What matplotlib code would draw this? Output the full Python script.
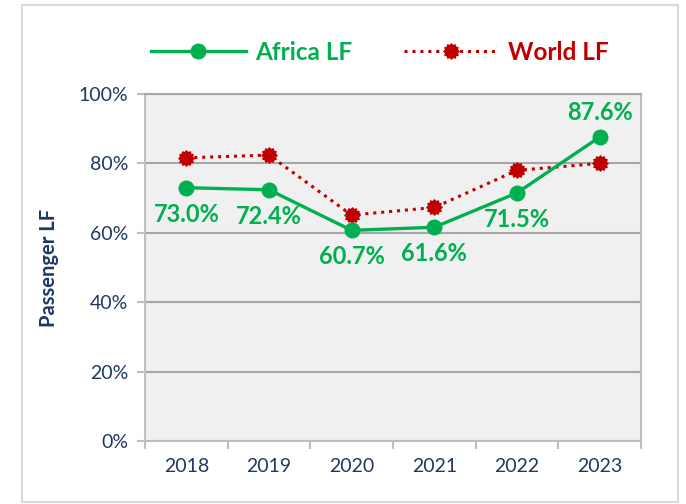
import matplotlib
matplotlib.use("Agg")
import matplotlib.pyplot as plt
import numpy as np
from matplotlib.path import Path
from matplotlib.patches import Rectangle

years = ["2018", "2019", "2020", "2021", "2022", "2023"]
africa_lf = [73.0, 72.4, 60.7, 61.6, 71.5, 87.6]
world_lf = [81.6, 82.4, 65.1, 67.3, 78.0, 80.0]
africa_labels = ["73.0%", "72.4%", "60.7%", "61.6%", "71.5%", "87.6%"]
label_above = [False, False, False, False, False, True]
yticks = [0, 20, 40, 60, 80, 100]

GREEN = "#00B050"
RED = "#C00000"
NAVY = "#1F3864"
GRID = "#A6A6A6"

plt.rcParams['font.family'] = ['Lato', 'DejaVu Sans']

# burst marker
n = 12
ang = np.linspace(0, 2 * np.pi, 2 * n, endpoint=False)
rad = np.where(np.arange(2 * n) % 2 == 0, 1.0, 0.78)
verts = np.column_stack([rad * np.cos(ang), rad * np.sin(ang)])
verts = np.vstack([verts, verts[:1]])
codes = [Path.MOVETO] + [Path.LINETO] * (2 * n - 1) + [Path.CLOSEPOLY]
burst = Path(verts, codes)

fig = plt.figure(figsize=(6.86, 5.04), dpi=100)
fig.patches.append(Rectangle((22 / 686, 2 / 504), 656 / 686, 497 / 504,
                             transform=fig.transFigure, fill=False,
                             edgecolor="#D9D9D9", linewidth=1.5))
ax = fig.add_axes([145 / 686, 63 / 504, 496 / 686, 347 / 504])
ax.set_facecolor("#F0F0F0")

x = np.arange(len(years))
ax.plot(x, africa_lf, color=GREEN, lw=2.4, marker="o", ms=10.5,
        label="Africa LF", zorder=4)
ax.plot(x, world_lf, color=RED, lw=2.2, ls=(0, (1, 1.6)), marker=burst,
        ms=11, label="World LF", zorder=3)

for xi, v, lab, up in zip(x, africa_lf, africa_labels, label_above):
    ax.annotate(lab, (xi, v), xytext=(0, 18 if up else -19),
                textcoords="offset points", ha="center",
                va="center", color=GREEN, fontsize=17, fontweight="bold",
                zorder=5)

ax.set_xlim(-0.5, len(years) - 0.5)
ax.set_ylim(0, 100)
ax.set_yticks(yticks)
ax.set_yticklabels([f"{t}%" for t in yticks])
ax.yaxis.grid(True, color=GRID, lw=1.5)
ax.set_axisbelow(True)
ax.set_xticks(x)
ax.set_xticklabels(years)
ax.set_xticks(np.arange(-0.5, len(years), 1.0), minor=True)
ax.tick_params(axis="x", which="major", length=0, pad=12, labelsize=14,
               labelcolor=NAVY)
ax.tick_params(axis="x", which="minor", length=6, color="#BFBFBF", width=1.5)
ax.tick_params(axis="y", length=6, color="#BFBFBF", width=1.5, pad=6,
               labelsize=14, labelcolor=NAVY)
for s in ["left", "bottom", "right", "top"]:
    ax.spines[s].set_color("#BFBFBF")
    ax.spines[s].set_linewidth(1.5)
ax.spines["top"].set_color(GRID)

ax.set_ylabel("Passenger LF", color=NAVY, fontsize=14.5, fontweight="bold",
              labelpad=14)

leg = fig.legend(loc="center", bbox_to_anchor=(380 / 686, 1 - 52 / 504),
                 ncol=2, frameon=False, fontsize=17.5, handlelength=3.9,
                 columnspacing=2.1, handletextpad=0.4)
for txt, c in zip(leg.get_texts(), [GREEN, RED]):
    txt.set_color(c)
    txt.set_fontweight("bold")

fig.savefig("out.png", dpi=100)
